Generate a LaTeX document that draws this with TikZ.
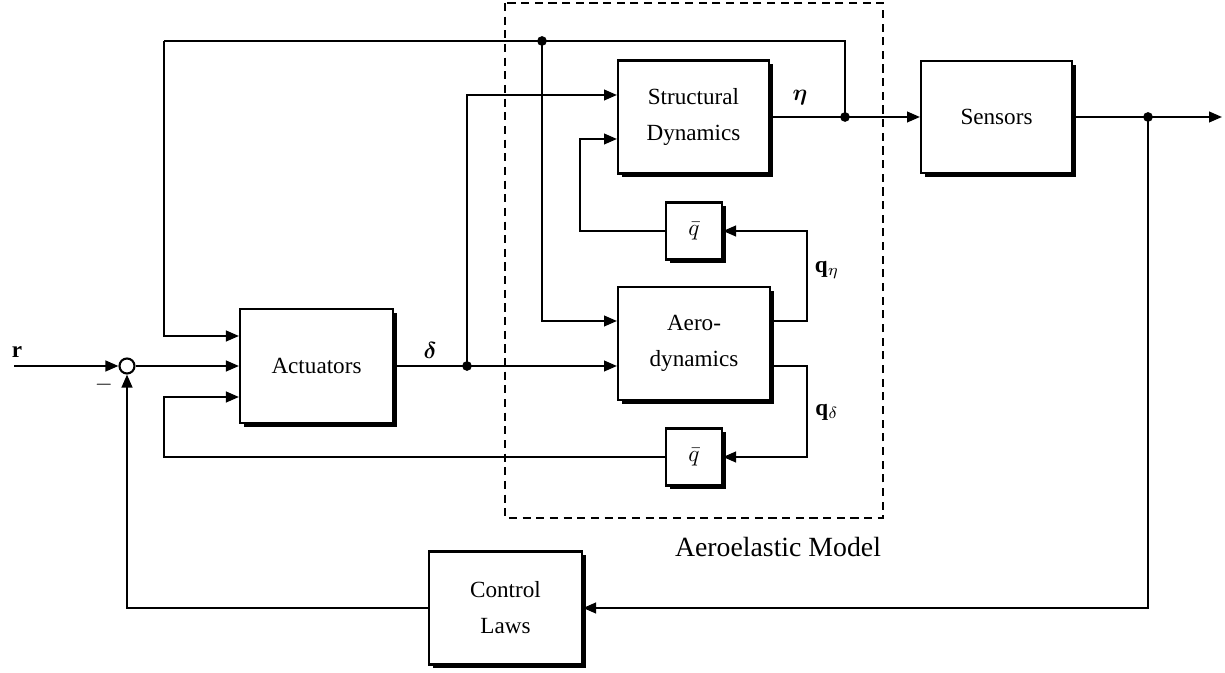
\documentclass[tikz,border=0pt]{standalone}
\usepackage{fontspec}
\setmainfont{Liberation Serif}
\usepackage{amsmath,bm}
\usetikzlibrary{arrows.meta,shadows}
\begin{document}
\begin{tikzpicture}[x=0.432pt,y=-0.432pt,
  line width=0.9pt,
  blk/.style={draw,fill=white,line width=0.9pt,align=center,inner sep=0pt,
    drop shadow={shadow xshift=1.7pt,shadow yshift=-1.7pt,opacity=1,fill=black}},
  arr/.style={-{Triangle[length=5.6pt,width=4.6pt]}},
  dot/.style={circle,fill=black,inner sep=0pt,minimum size=4.2pt},
  lbl/.style={inner sep=0pt}]
\useasboundingbox (0,0) rectangle (1225,673);
% dashed region
\draw[dashed,dash pattern=on 3.5pt off 2.4pt] (505,3) rectangle (883,518);
\node[lbl,font=\fontsize{12}{14}\selectfont] (aelab) at (778,547) {Aeroelastic Model};
% blocks
\node[blk,minimum width=153*0.432pt,minimum height=114*0.432pt] (act) at (316.5,366) {Actuators};
\node[blk,minimum width=151*0.432pt,minimum height=113*0.432pt] (str) at (693.5,117) {Structural\\[3.5pt]Dynamics};
\node[blk,minimum width=152*0.432pt,minimum height=113*0.432pt] (aero) at (694,343.5) {Aero-\\[3.5pt]dynamics};
\node[blk,minimum width=151*0.432pt,minimum height=112*0.432pt] (sens) at (996.5,117) {Sensors};
\node[blk,minimum width=153*0.432pt,minimum height=113*0.432pt] (ctrl) at (505.5,608) {Control\\[3.5pt]Laws};
\node[blk,minimum width=56*0.432pt,minimum height=57*0.432pt] (qa) at (694,231) {$\bar{q}$};
\node[blk,minimum width=56*0.432pt,minimum height=57*0.432pt] (qb) at (694,457) {$\bar{q}$};
\node[draw,circle,fill=white,inner sep=0pt,minimum size=15*0.432pt] (sum) at (127,366) {};
% coordinates
\coordinate (rin) at (14,366);
\coordinate (dj) at (467,366);
\coordinate (ej) at (845,117);
\coordinate (tj) at (542,41);
\coordinate (sj) at (1148,117);
\coordinate (out) at (1222,117);
\coordinate (fbx) at (164,41);
\coordinate (qx) at (807,0);
\coordinate (lx) at (580,0);
% junction dots
\node[dot] (djd) at (dj) {};
\node[dot] (ejd) at (ej) {};
\node[dot] (tjd) at (tj) {};
\node[dot] (sjd) at (sj) {};
% connectors
\draw[arr] (rin) -- (sum.west);
\draw[arr] (sum.east) -- (act.west);
\draw (act.east) -- (dj);
\draw[arr] (dj) -- (aero.west |- dj);
\draw[arr] (dj) |- (str.west |- 0,95);
\draw (str.east) -- (ej);
\draw[arr] (ej) -- (sens.west);
\draw (ej) |- (fbx);
\draw[arr] (fbx) |- (act.west |- 0,336);
\draw[arr] (tj) |- (aero.west |- 0,321);
\draw[arr] (aero.east |- 0,321) -| (qx |- qa.east) -- (qa.east);
\draw[arr] (qa.west) -| (lx |- 0,139) -- (str.west |- 0,139);
\draw[arr] (aero.east |- 0,366) -| (qx |- qb.east) -- (qb.east);
\draw[arr] (qb.west) -| (164,397) -- (act.west |- 0,397);
\draw[arr] (sens.east) -- (out);
\draw[arr] (sj) |- (ctrl.east);
\draw[arr] (ctrl.west) -| (sum.south);
% labels
\node[lbl] (rl) at (17,352) {$\mathbf{r}$};
\node[lbl] (ml) at (104,385) {$-$};
\node[lbl] (dl) at (430,350) {$\bm{\delta}$};
\node[lbl] (el) at (800,98) {$\bm{\eta}$};
\node[lbl] (qel) at (827,270) {$\mathbf{q}_\eta$};
\node[lbl] (qdl) at (827,412) {$\mathbf{q}_\delta$};
\end{tikzpicture}
\end{document}
